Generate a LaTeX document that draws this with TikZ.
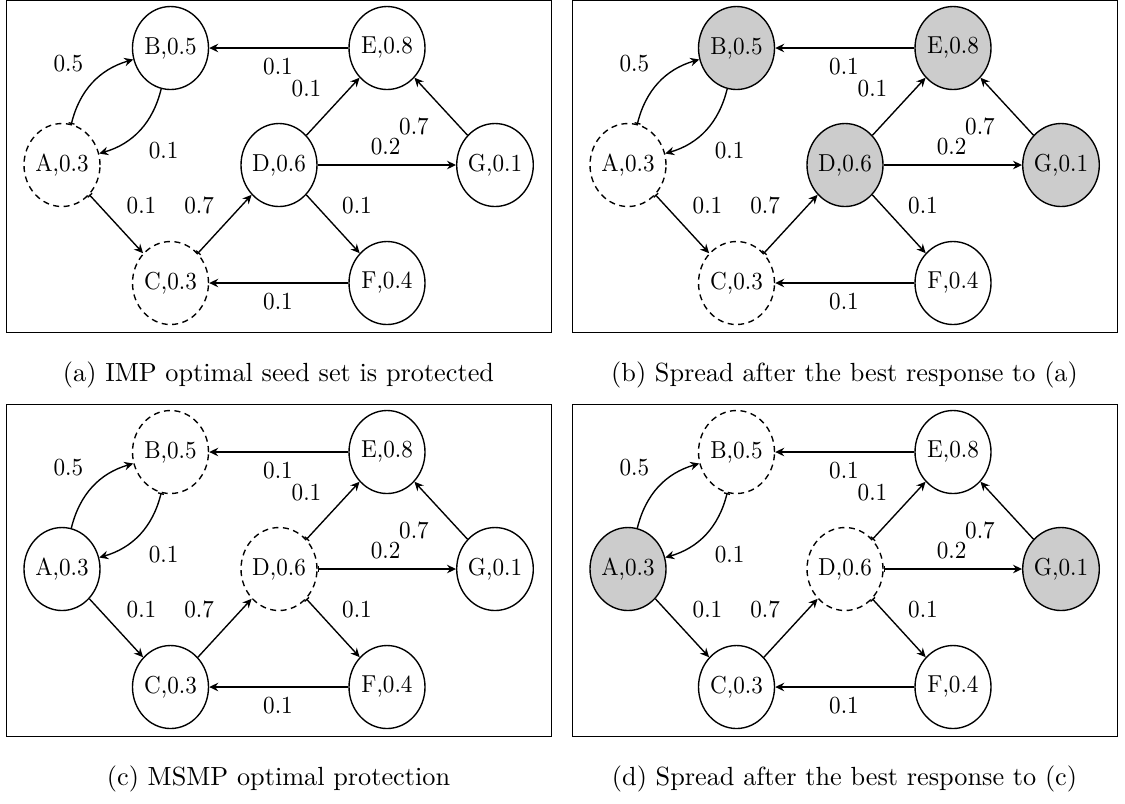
\documentclass[tikz,border=0pt]{standalone}
\usepackage{graphicx}
\usetikzlibrary{arrows.meta,shapes.geometric}
\newcommand\vt[1]{\scalebox{1}[1.09]{#1}}
\tikzset{
  vtx/.style={ellipse, draw, line width=0.55pt, minimum width=30.4pt, minimum height=33.2pt,
    inner sep=0pt, fill=white, font=\fontsize{9}{10}\selectfont},
  prot/.style={dash pattern=on 2.4pt off 1.8pt},
  hit/.style={fill=black!20},
  conn/.style={line width=0.55pt, -{Stealth[length=3.6pt,width=3.4pt,inset=1.2pt]}},
  tickconn/.style={conn, {Bar[width=2.4pt]}-{Stealth[length=3.6pt,width=3.4pt,inset=1.2pt]}},
  lbl/.style={inner sep=0pt, font=\fontsize{9}{10}\selectfont},
  panelbox/.style={draw, line width=0.4pt},
  captxt/.style={anchor=base, inner sep=0pt, font=\fontsize{10.5}{12}\selectfont},
  stA/.style={}, stB/.style={}, stC/.style={}, stD/.style={}, stE/.style={}, stF/.style={}, stG/.style={},
  srcA/.style={conn}, srcB/.style={conn}, srcC/.style={conn}, srcD/.style={conn},
  srcE/.style={conn}, srcF/.style={conn}, srcG/.style={conn}
}
\newcommand\graphpanel[1]{%
  \draw[panelbox] (6,0.8) rectangle (551,332);
  \node[vtx,stA] (#1A) at (62,165) {\vt{A,0.3}};
  \node[vtx,stB] (#1B) at (170.5,48) {\vt{B,0.5}};
  \node[vtx,stC] (#1C) at (170.5,283) {\vt{C,0.3}};
  \node[vtx,stD] (#1D) at (279,165) {\vt{D,0.6}};
  \node[vtx,stE] (#1E) at (387,48) {\vt{E,0.8}};
  \node[vtx,stF] (#1F) at (387,283) {\vt{F,0.4}};
  \node[vtx,stG] (#1G) at (495,165) {\vt{G,0.1}};
  \draw[srcA] (#1A) to[bend left=30] (#1B);
  \draw[srcB] (#1B) to[bend left=30] (#1A);
  \draw[srcA] (#1A) -- (#1C);
  \draw[srcC] (#1C) -- (#1D);
  \draw[srcD] (#1D) -- (#1E);
  \draw[srcD] (#1D) -- (#1G);
  \draw[srcD] (#1D) -- (#1F);
  \draw[srcE] (#1E) -- (#1B);
  \draw[srcG] (#1G) -- (#1E);
  \draw[srcF] (#1F) -- (#1C);
  \node[lbl] (#1l1) at (68.4,63.7) {\vt{0.5}};
  \node[lbl] (#1l2) at (163.6,150.3) {\vt{0.1}};
  \node[lbl] (#1l3) at (141.5,205.3) {\vt{0.1}};
  \node[lbl] (#1l4) at (199.2,205.3) {\vt{0.7}};
  \node[lbl] (#1l5) at (278,67) {\vt{0.1}};
  \node[lbl] (#1l6) at (306.5,88.7) {\vt{0.1}};
  \node[lbl] (#1l7) at (414,126.3) {\vt{0.7}};
  \node[lbl] (#1l8) at (385.6,147) {\vt{0.2}};
  \node[lbl] (#1l9) at (357,205.3) {\vt{0.1}};
  \node[lbl] (#1l10) at (278,302) {\vt{0.1}};
}
\begin{document}
\begin{tikzpicture}[x=0.4pt, y=-0.4pt]
  \useasboundingbox (0,0) rectangle (1125,803);
  \begin{scope}[stA/.style={prot}, stC/.style={prot}, srcA/.style={tickconn}, srcC/.style={tickconn}]
    \graphpanel{a}
    \node[captxt] (capa) at (278.5,381) {(a) IMP optimal seed set is protected};
  \end{scope}
  \begin{scope}[shift={(566,0)}, stA/.style={prot}, stC/.style={prot}, srcA/.style={tickconn}, srcC/.style={tickconn},
      stB/.style={hit}, stD/.style={hit}, stE/.style={hit}, stG/.style={hit}]
    \graphpanel{b}
    \node[captxt] (capb) at (278.5,381) {(b) Spread after the best response to (a)};
  \end{scope}
  \begin{scope}[shift={(0,404)}, stB/.style={prot}, stD/.style={prot}, srcB/.style={tickconn}, srcD/.style={tickconn}]
    \graphpanel{c}
    \node[captxt] (capc) at (278.5,381) {(c) MSMP optimal protection};
  \end{scope}
  \begin{scope}[shift={(566,404)}, stB/.style={prot}, stD/.style={prot}, srcB/.style={tickconn}, srcD/.style={tickconn},
      stA/.style={hit}, stG/.style={hit}]
    \graphpanel{d}
    \node[captxt] (capd) at (278.5,381) {(d) Spread after the best response to (c)};
  \end{scope}
\end{tikzpicture}
\end{document}
